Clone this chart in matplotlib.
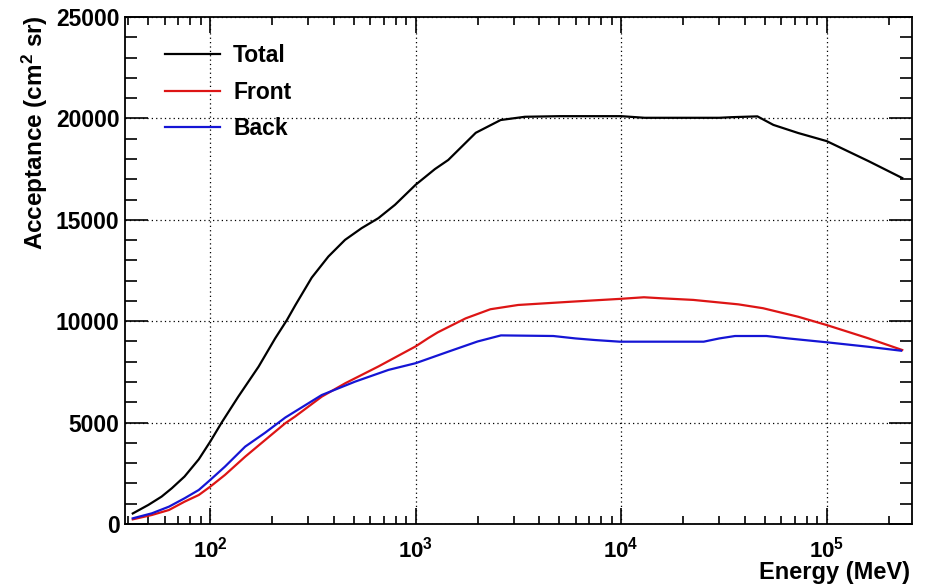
import numpy as np
import matplotlib
matplotlib.use('Agg')
import matplotlib.pyplot as plt
from matplotlib.ticker import FixedLocator, MultipleLocator, LogLocator, NullFormatter, FuncFormatter

plt.rcParams['font.family'] = ['Liberation Sans', 'DejaVu Sans']
plt.rcParams['font.weight'] = 'bold'
plt.rcParams['mathtext.fontset'] = 'custom'
plt.rcParams['mathtext.rm'] = 'Liberation Sans:bold'
plt.rcParams['mathtext.bf'] = 'Liberation Sans:bold'
plt.rcParams['mathtext.it'] = 'Liberation Sans:bold'

# acceptance vs energy (MeV), cm^2 sr
energy_total = [42, 50, 58, 65, 75, 88, 100, 114, 137, 172, 207, 236, 260, 312, 376, 453,
                546, 658, 793, 1000, 1240, 1440, 1960, 2590, 3400, 5000, 7000, 10000, 13000,
                20000, 30000, 34400, 46000, 55000, 72600, 100000, 160000, 233000]
total = [520, 940, 1350, 1760, 2340, 3190, 4060, 5020, 6280, 7760, 9150, 10050, 10800, 12150,
         13190, 14010, 14590, 15080, 15740, 16730, 17500, 17950, 19290, 19920, 20080, 20110,
         20110, 20110, 20030, 20030, 20030, 20060, 20100, 19680, 19280, 18880, 17890, 17060]

energy_front = [42, 52, 63, 75, 88, 100, 118, 148, 185, 232, 259, 349, 454, 659, 1000, 1153,
                1280, 1750, 2310, 3150, 5680, 9840, 12900, 15700, 22400, 37200, 49000, 72600,
                100000, 159000, 233000]
front = [230, 444, 690, 1100, 1430, 1840, 2420, 3320, 4140, 4970, 5300, 6280, 6940, 7770, 8760,
         9170, 9450, 10140, 10590, 10800, 10960, 11100, 11180, 11130, 11050, 10830, 10640,
         10220, 9810, 9160, 8580]

energy_back = [42, 52, 63, 75, 88, 100, 118, 148, 185, 232, 349, 507, 738, 1000, 1443, 2000,
               2600, 4670, 6000, 7480, 9840, 25200, 30000, 35800, 50900, 65000, 100000, 159000,
               230000]
back = [280, 526, 855, 1267, 1678, 2171, 2830, 3816, 4500, 5250, 6360, 7020, 7600, 7930, 8500,
        9000, 9300, 9270, 9150, 9070, 8990, 8990, 9150, 9270, 9270, 9150, 8960, 8740, 8545]

fig = plt.figure(figsize=(9.28, 5.87), dpi=100)
ax = fig.add_axes([125/928, 63/587, 787/928, 507/587])

ax.plot(energy_total, total, color='black', lw=1.6, label='Total')
ax.plot(energy_front, front, color='#dd1515', lw=1.6, label='Front')
ax.plot(energy_back, back, color='#1515d5', lw=1.6, label='Back')

ax.set_xscale('log')
ax.set_xlim(38.5, 2.6e5)
ax.set_ylim(0, 25000)

ax.xaxis.set_major_locator(FixedLocator([1e2, 1e3, 1e4, 1e5]))
ax.xaxis.set_minor_locator(LogLocator(base=10, subs=np.arange(2, 10), numticks=20))
ax.xaxis.set_minor_formatter(NullFormatter())
ax.xaxis.set_major_formatter(FuncFormatter(lambda v, p: r'$10^{%d}$' % round(np.log10(v))))
ax.yaxis.set_major_locator(MultipleLocator(5000))
ax.yaxis.set_minor_locator(MultipleLocator(1000))

ax.tick_params(axis='both', which='both', direction='in', top=True, right=True,
               width=1.2, colors='black')
ax.tick_params(axis='x', which='major', length=11.5, pad=9, labelsize=16)
ax.tick_params(axis='x', which='minor', length=5.8)
ax.tick_params(axis='y', which='major', length=16.5, pad=4, labelsize=16.5)
ax.tick_params(axis='y', which='minor', length=8.3)
for s in ax.spines.values():
    s.set_linewidth(1.3)

ax.grid(True, which='major', color='black', linestyle=(0, (1, 2.5)), linewidth=0.9)

ax.set_xlabel('Energy (MeV)', fontsize=17, fontweight='bold', loc='right')
ax.xaxis.set_label_coords(0.9975, -0.072)
ax.set_ylabel(r'Acceptance (cm$^{2}$ sr)', fontsize=17.5, fontweight='bold', loc='top')
ax.yaxis.set_label_coords(-0.095, 1.004)

ax.legend(loc='upper left', bbox_to_anchor=(0.0508, 0.947), frameon=False, fontsize=16.5,
          handlelength=2.4, handletextpad=0.57, labelspacing=0.6, borderpad=0.0,
          borderaxespad=0.0)

fig.savefig('out.png', dpi=100)
